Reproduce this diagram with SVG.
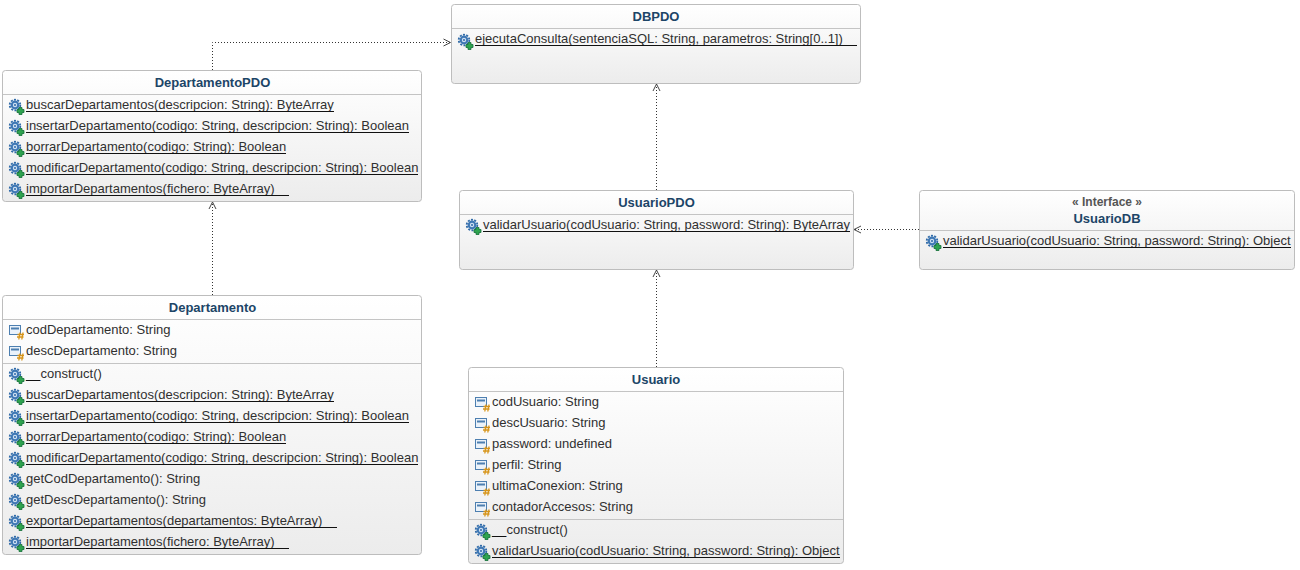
<svg xmlns="http://www.w3.org/2000/svg" width="1300" height="570" viewBox="0 0 1300 570">
<style>
text{font-family:"Liberation Sans",Arial,sans-serif;font-size:13px;fill:#303030}
.t{font-weight:bold;fill:#1c4567;text-anchor:middle;font-size:13px}
.s{font-weight:bold;fill:#555;text-anchor:middle;font-size:12px}
.b{fill:url(#g);stroke:#bdbdbd;stroke-width:1}
.d{stroke:#c4c4c4;stroke-width:1}
.u{stroke:#111;stroke-width:1}
.c{fill:none;stroke:#333;stroke-width:1;stroke-dasharray:1 2}
.a{fill:none;stroke:#444;stroke-width:1}
</style>
<defs>
<linearGradient id="g" x1="0" y1="0" x2="0" y2="1"><stop offset="0" stop-color="#fff"/><stop offset="1" stop-color="#ececec"/></linearGradient>
<g id="m">
<circle cx="6" cy="7" r="5.300" fill="none" stroke="#2f6aa8" stroke-width="1.800" stroke-dasharray="2 1.330"/>
<circle cx="6" cy="7" r="4.400" fill="#3f78b5"/>
<circle cx="6" cy="7" r="2.200" fill="#cfe0f2"/>
<circle cx="6" cy="7" r="1" fill="#2f6aa8"/>
<path d="M10 9.500h3v2h2v3h-2v2h-3v-2h-2v-3h2z" fill="#2fa34f" stroke="#14703a" stroke-width="0.800"/>
</g>
<g id="f">
<rect x="0.500" y="1.500" width="11" height="9" fill="#eaf2fa" stroke="#4d7fb0"/>
<rect x="2" y="3.500" width="8" height="2" fill="#4d7fb0"/>
<path d="M8.500 10.500h6.500M8 13h6.500M11 8.500l-1.200 7M14 8.500l-1.200 7" stroke="#d7951a" stroke-width="1.300" fill="none"/>
</g>
</defs>
<g id="connectors">
<path class="c" d="M212.500 70V42.500H450"/><path class="a" d="M443.500 39l7 3.500-7 3.500"/>
<path class="c" d="M212.500 295V202"/><path class="a" d="M209 209l3.500-7 3.500 7"/>
<path class="c" d="M656.500 190V84"/><path class="a" d="M653 91l3.500-7 3.500 7"/>
<path class="c" d="M656.500 367V270"/><path class="a" d="M653 277l3.500-7 3.500 7"/>
<path class="c" d="M919 229.500H854"/><path class="a" d="M861 226l-7 3.500 7 3.500"/>
</g>
<g id="DBPDO">
<rect class="b" x="451.500" y="4.500" width="409" height="79" rx="3"/><path class="d" d="M452 28.500H860"/>
<text class="t" x="656" y="21">DBPDO</text>
<use href="#m" x="458" y="33"/><text x="475" y="43">ejecutaConsulta(sentenciaSQL: String, parametros: String[0..1])</text><path class="u" d="M475 45.500H857"/>
</g>
<g id="DepartamentoPDO">
<rect class="b" x="2.500" y="70.500" width="419" height="131" rx="3"/><path class="d" d="M3 94.500H421"/>
<text class="t" x="212.500" y="87">DepartamentoPDO</text>
<use href="#m" x="9" y="98"/><text x="26" y="109">buscarDepartamentos(descripcion: String): ByteArray</text><path class="u" d="M26 111.500H334"/>
<use href="#m" x="9" y="119"/><text x="26" y="130">insertarDepartamento(codigo: String, descripcion: String): Boolean</text><path class="u" d="M26 132.500H409"/>
<use href="#m" x="9" y="140"/><text x="26" y="151">borrarDepartamento(codigo: String): Boolean</text><path class="u" d="M26 153.500H286"/>
<use href="#m" x="9" y="161"/><text x="26" y="172">modificarDepartamento(codigo: String, descripcion: String): Boolean</text><path class="u" d="M26 174.500H418"/>
<use href="#m" x="9" y="182"/><text x="26" y="193">importarDepartamentos(fichero: ByteArray)</text><path class="u" d="M26 195.500H289"/>
</g>
<g id="UsuarioPDO">
<rect class="b" x="459.500" y="190.500" width="394" height="79" rx="3"/><path class="d" d="M460 214.500H853"/>
<text class="t" x="656.500" y="207">UsuarioPDO</text>
<use href="#m" x="466" y="218"/><text x="483" y="229">validarUsuario(codUsuario: String, password: String): ByteArray</text><path class="u" d="M483 231.500H850"/>
</g>
<g id="UsuarioDB">
<rect class="b" x="919.500" y="190.500" width="375" height="79" rx="3"/><path class="d" d="M920 230.500H1294"/>
<text class="s" x="1107" y="206">« Interface »</text>
<text class="t" x="1107" y="223">UsuarioDB</text>
<use href="#m" x="926" y="234"/><text x="943" y="245">validarUsuario(codUsuario: String, password: String): Object</text><path class="u" d="M943 247.500H1291"/>
</g>
<g id="Departamento">
<rect class="b" x="2.500" y="295.500" width="419" height="259" rx="3"/><path class="d" d="M3 319.500H421M3 363.500H421"/>
<text class="t" x="212.500" y="312">Departamento</text>
<use href="#f" x="9" y="324"/><text x="26" y="334">codDepartamento: String</text>
<use href="#f" x="9" y="345"/><text x="26" y="355">descDepartamento: String</text>
<use href="#m" x="9" y="367"/><text x="26" y="378">__construct()</text><path class="u" d="M26 380.500H40"/>
<use href="#m" x="9" y="388"/><text x="26" y="399">buscarDepartamentos(descripcion: String): ByteArray</text><path class="u" d="M26 401.500H334"/>
<use href="#m" x="9" y="409"/><text x="26" y="420">insertarDepartamento(codigo: String, descripcion: String): Boolean</text><path class="u" d="M26 422.500H409"/>
<use href="#m" x="9" y="430"/><text x="26" y="441">borrarDepartamento(codigo: String): Boolean</text><path class="u" d="M26 443.500H286"/>
<use href="#m" x="9" y="451"/><text x="26" y="462">modificarDepartamento(codigo: String, descripcion: String): Boolean</text><path class="u" d="M26 464.500H418"/>
<use href="#m" x="9" y="472"/><text x="26" y="483">getCodDepartamento(): String</text>
<use href="#m" x="9" y="493"/><text x="26" y="504">getDescDepartamento(): String</text>
<use href="#m" x="9" y="514"/><text x="26" y="525">exportarDepartamentos(departamentos: ByteArray)</text><path class="u" d="M26 527.500H337"/>
<use href="#m" x="9" y="535"/><text x="26" y="546">importarDepartamentos(fichero: ByteArray)</text><path class="u" d="M26 548.500H289"/>
</g>
<g id="Usuario">
<rect class="b" x="468.500" y="367.500" width="375" height="196" rx="3"/><path class="d" d="M469 391.500H843M469 519.500H843"/>
<text class="t" x="656" y="384">Usuario</text>
<use href="#f" x="475" y="396"/><text x="492" y="406">codUsuario: String</text>
<use href="#f" x="475" y="417"/><text x="492" y="427">descUsuario: String</text>
<use href="#f" x="475" y="438"/><text x="492" y="448">password: undefined</text>
<use href="#f" x="475" y="459"/><text x="492" y="469">perfil: String</text>
<use href="#f" x="475" y="480"/><text x="492" y="490">ultimaConexion: String</text>
<use href="#f" x="475" y="501"/><text x="492" y="511">contadorAccesos: String</text>
<use href="#m" x="475" y="523"/><text x="492" y="534">__construct()</text><path class="u" d="M492 536.500H506"/>
<use href="#m" x="475" y="544"/><text x="492" y="555">validarUsuario(codUsuario: String, password: String): Object</text><path class="u" d="M492 557.500H840"/>
</g>
</svg>
